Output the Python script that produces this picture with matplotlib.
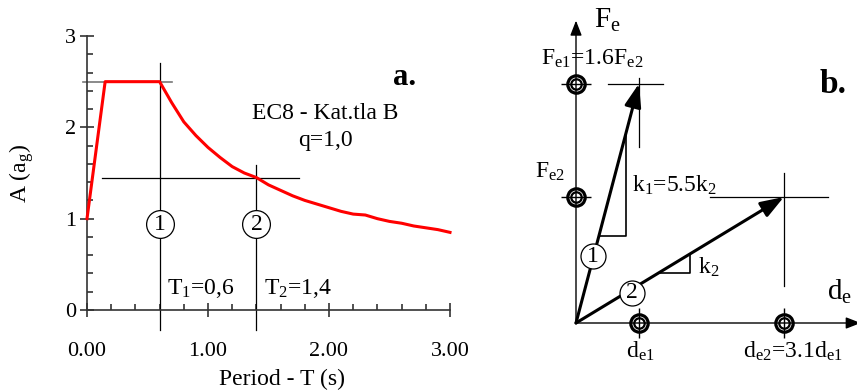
import matplotlib
matplotlib.use('Agg')
import matplotlib.pyplot as plt
from matplotlib.ticker import MultipleLocator

plt.rcParams['font.family'] = 'Liberation Serif'
plt.rcParams['mathtext.fontset'] = 'custom'
plt.rcParams['mathtext.rm'] = 'Liberation Serif'
plt.rcParams['mathtext.it'] = 'Liberation Serif'
plt.rcParams['mathtext.bf'] = 'Liberation Serif:bold'

# --- panel a: EC8 elastic spectrum, soil B, q = 1.0
periods = [0.0, 0.15, 0.6, 0.7, 0.8, 0.9, 1.0, 1.1, 1.2, 1.3, 1.4, 1.5,
           1.6, 1.7, 1.8, 1.9, 2.0, 2.1, 2.2, 2.3, 2.4, 2.5, 2.6, 2.7,
           2.8, 2.9, 3.0]
accel = [1.0, 2.5, 2.5, 2.27, 2.06, 1.91, 1.78, 1.67, 1.57, 1.50, 1.45,
         1.37, 1.31, 1.25, 1.20, 1.16, 1.12, 1.08, 1.05, 1.04, 1.00, 0.97,
         0.95, 0.92, 0.90, 0.88, 0.85]
mode_periods = [0.6, 1.4]
mode_accel = [2.5, 1.45]
mode_names = ['1', '2']
x_ticks = [0, 1, 2, 3]
x_tick_labels = ['0.00', '1.00', '2.00', '3.00']
y_ticks = [0, 1, 2, 3]

# --- panel b: force - displacement (arbitrary units, as drawn)
d_e = [1.0, 3.3]     # d_e1, d_e2
F_e = [3.8, 2.0]     # F_e1, F_e2

FS = 17

fig = plt.figure(figsize=(8.57, 3.92), dpi=100)

# ================= panel a =================
ax = fig.add_axes([87 / 857, 82 / 392, 363 / 857, 274 / 392])
ax.set_xlim(0, 3)
ax.set_ylim(0, 3)
for s in ['top', 'right']:
    ax.spines[s].set_visible(False)
for s in ['left', 'bottom']:
    ax.spines[s].set_color('#333333')
    ax.spines[s].set_linewidth(1.2)

ax.xaxis.set_minor_locator(MultipleLocator(0.2))
ax.yaxis.set_minor_locator(MultipleLocator(0.2))
ax.set_xticks(x_ticks)
ax.set_xticklabels(x_tick_labels)
ax.set_yticks(y_ticks)
ax.tick_params(which='major', direction='inout', length=10, width=1.2,
               color='#333333', labelsize=16)
ax.tick_params(which='minor', direction='in', length=4, width=1.2,
               color='#333333')
ax.tick_params(axis='x', which='major', pad=18)
ax.tick_params(axis='y', which='major', pad=3)

ax.plot(periods, accel, color='red', lw=2.2, zorder=3, clip_on=False)

# guide lines
ax.plot([-0.03, 0.70], [mode_accel[0], mode_accel[0]], color='#777777',
        lw=1.2, zorder=2, clip_on=False)
ax.plot([0.12, 1.75], [mode_accel[1], mode_accel[1]], color='black',
        lw=0.9, zorder=2)
ax.plot([mode_periods[0]] * 2, [-0.22, 2.70], color='black', lw=0.9,
        zorder=2, clip_on=False)
ax.plot([mode_periods[1]] * 2, [-0.22, 1.59], color='black', lw=0.9,
        zorder=2, clip_on=False)

for t, name in zip(mode_periods, mode_names):
    ax.plot(t, 0.94, 'o', ms=20, mfc='white', mec='black', mew=0.9, zorder=4)
    ax.text(t, 0.94, name, ha='center', va='center', fontsize=FS, zorder=5)

ax.text(0.66, 0.23, r'T$_1$=0,6', fontsize=FS, va='center', ha='left')
ax.text(1.46, 0.23, r'T$_2$=1,4', fontsize=FS, va='center', ha='left')
ax.text(1.97, 2.15, 'EC8 - Kat.tla B', fontsize=FS, ha='center', va='center')
ax.text(1.97, 1.86, 'q=1,0', fontsize=FS, ha='center', va='center')
ax.text(2.72, 2.55, 'a.', fontsize=22, fontweight='bold', ha='right',
        va='center')

ax.set_xlabel('Period - T (s)', fontsize=FS)
ax.xaxis.set_label_coords(0.537, -0.255)
ax.xaxis.label.set_va('center')
ax.set_ylabel(r'A (a$_\mathrm{g}$)', fontsize=FS)
ax.yaxis.label.set_va('center')
ax.yaxis.set_label_coords(-0.18, 0.5)

# ================= panel b =================
bx = fig.add_axes([540 / 857, 0, 317 / 857, 1])
bx.set_xlim(-36 / 63, 281 / 63)
bx.set_ylim(-69 / 63, 323 / 63)
bx.axis('off')

axis_arrow = dict(arrowstyle='-|>,head_length=0.9,head_width=0.35',
                  mutation_scale=10, lw=1.0, color='black',
                  shrinkA=0, shrinkB=0)
bx.annotate('', xy=(0, 4.80), xytext=(0, 0), arrowprops=axis_arrow)
bx.annotate('', xy=(4.52, 0), xytext=(0, 0), arrowprops=axis_arrow,
            annotation_clip=False)

vec_arrow = dict(arrowstyle='-|>,head_length=1.4,head_width=0.5',
                 mutation_scale=10, lw=2.2, color='black',
                 shrinkA=0, shrinkB=0)
for d, f in zip(d_e, F_e):
    bx.annotate('', xy=(d, f), xytext=(0, 0), arrowprops=vec_arrow)

# cross hairs at vector tips
bx.plot([0.51, 1.38], [F_e[0], F_e[0]], color='black', lw=0.9)
bx.plot([d_e[0], d_e[0]], [2.79, 3.89], color='black', lw=0.9)
bx.plot([2.13, 4.0], [F_e[1], F_e[1]], color='black', lw=0.9)
bx.plot([d_e[1], d_e[1]], [0.59, 2.38], color='black', lw=0.9)

# slope triangles
k1 = F_e[0] / d_e[0]
k2 = F_e[1] / d_e[1]
bx.plot([1.38 / k1, 0.79, 0.79], [1.38, 1.38, 0.79 * k1], color='black',
        lw=1.2)
bx.plot([0.79 / k2, 1.81, 1.81], [0.79, 0.79, 1.81 * k2], color='black',
        lw=1.2)

# markers on the axes
for f in F_e:
    bx.plot(0, f, '_', ms=21, color='black', mew=1.0)
for d in d_e:
    bx.plot(d, 0, '|', ms=21, color='black', mew=1.0)
ring_x = [0, 0] + d_e
ring_y = F_e + [0, 0]
bx.plot(ring_x, ring_y, 'o', ms=12.5, mfc='none', mec='black', mew=2.3)
bx.plot(ring_x, ring_y, 'o', ms=7.5, mfc='none', mec='black', mew=1.6)

# numbered circles
bx.plot(0.27, 1.06, 'o', ms=18, mfc='white', mec='black', mew=0.9, zorder=4)
bx.text(0.27, 1.06, '1', ha='center', va='center', fontsize=FS, zorder=5)
bx.plot(0.89, 0.48, 'o', ms=18, mfc='white', mec='black', mew=0.9, zorder=4)
bx.text(0.89, 0.48, '2', ha='center', va='center', fontsize=FS, zorder=5)

bx.text(0.89, 2.19, r'k$_1$=5.5k$_2$', fontsize=FS, ha='left', va='center')
bx.text(1.94, 0.89, r'k$_2$', fontsize=FS, ha='left', va='center')
bx.text(0.49, 4.81, r'F$_\mathrm{e}$', fontsize=21, ha='center', va='center')
bx.text(0.25, 4.20, r'F$_\mathrm{e1}$=1.6F$_\mathrm{e2}$', fontsize=FS,
        ha='center', va='center')
bx.text(-0.41, 2.40, r'F$_\mathrm{e2}$', fontsize=FS, ha='center',
        va='center')
bx.text(1.02, -0.45, r'd$_\mathrm{e1}$', fontsize=FS, ha='center',
        va='center')
bx.text(3.44, -0.45, r'd$_\mathrm{e2}$=3.1d$_\mathrm{e1}$', fontsize=FS,
        ha='center', va='center')
bx.text(4.19, 0.50, r'd$_\mathrm{e}$', fontsize=21, ha='center', va='center')
bx.text(4.08, 3.78, 'b.', fontsize=24, fontweight='bold', ha='center',
        va='center')

fig.savefig('out.png', dpi=100)
